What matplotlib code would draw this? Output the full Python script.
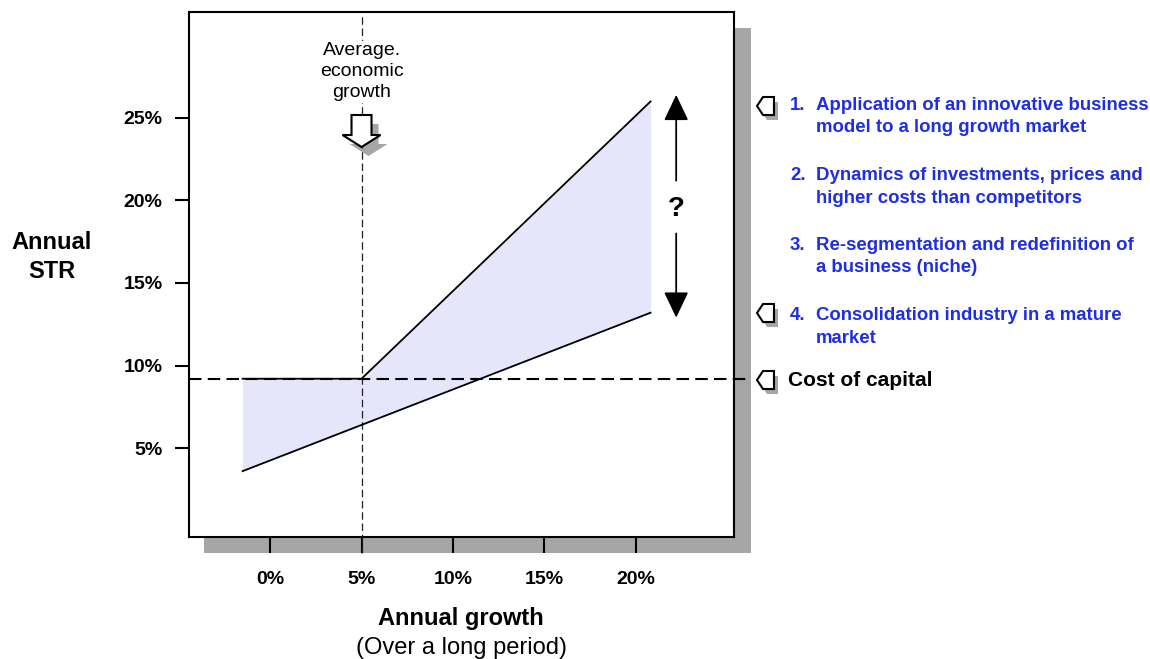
import matplotlib.pyplot as plt
from matplotlib.patches import Polygon, Rectangle
from matplotlib.transforms import ScaledTranslation

plt.rcParams['font.family'] = ['Liberation Sans', 'DejaVu Sans']

W, H = 1150, 659

# axis ticks (percent)
growth_ticks = [0, 5, 10, 15, 20]
str_ticks = [5, 10, 15, 20, 25]

# reference levels
avg_growth = 5.0
cost_of_capital = 9.2

# band of achievable returns vs growth
band_growth = [-1.5, 5.0, 20.8]
band_low = [3.6, 6.4, 13.2]
band_high = [9.2, 9.2, 26.0]

# "?" range arrow
range_x = 22.2
range_top = 26.4
range_bottom = 12.9
range_gap = [21.2, 18.0]
range_mid = 19.5

strategies = [
    ("1.", "Application of an innovative business", "model to a long growth market"),
    ("2.", "Dynamics of investments, prices and", "higher costs than competitors"),
    ("3.", "Re-segmentation and redefinition of", "a business (niche)"),
    ("4.", "Consolidation industry in a mature", "market"),
]
strategy_rows = [105, 176, 245, 316]
pointer_rows = [106, 313, 380]

BLUE = '#1e2ee0'
GREY = '#a6a6a6'


def fx(px):
    return px / W


def fy(py):
    return 1 - py / H


fig = plt.figure(figsize=(W / 100, H / 100), dpi=100)
ax = fig.add_axes([fx(189), fy(537), fx(734) - fx(189), fy(12) - fy(537)])

# drop shadow behind the plot frame
fig.add_artist(Rectangle((fx(204), fy(553)), fx(751) - fx(204), fy(28) - fy(553),
                         transform=fig.transFigure, fc=GREY, ec='none', zorder=-1))

ax.fill_between(band_growth, band_low, band_high, color='#e6e6fa', lw=0, zorder=1)
ax.plot(band_growth, band_low, color='black', lw=1.3, zorder=3)
ax.plot(band_growth, band_high, color='black', lw=1.3, zorder=3)

ax.axhline(cost_of_capital, xmin=0, xmax=1.029, color='black', lw=1.5,
           dashes=(6, 3), clip_on=False, zorder=4)
ax.axvline(avg_growth, ymin=-0.031, ymax=0.994, color='#222222', lw=0.9,
           dashes=(6, 3), clip_on=False, zorder=2)

ax.text(avg_growth, 27.8, 'Average.\neconomic\ngrowth', ha='center', va='center',
        fontsize=14, linespacing=1.3, zorder=6,
        bbox=dict(fc='white', ec='none', pad=1))

# block arrow pointing down at average growth (shape in pixels around its tip)
arrow_px = [(0, 0), (19, 12), (10, 12), (10, 32), (-10, 32), (-10, 12), (-19, 12)]
tip = fig.dpi_scale_trans + ScaledTranslation(avg_growth, 23.24, ax.transData)
ax.add_patch(Polygon([((x + 7) / 100, (y - 9) / 100) for x, y in arrow_px],
                     closed=True, fc=GREY, ec='none', transform=tip, zorder=1.5))
ax.add_patch(Polygon([(x / 100, y / 100) for x, y in arrow_px],
                     closed=True, fc='white', ec='black', lw=1.5, transform=tip, zorder=5))

# double-headed "?" arrow
head = '-|>,head_length=0.8,head_width=0.38'
ax.annotate('', xy=(range_x, range_top), xytext=(range_x, range_gap[0]),
            arrowprops=dict(arrowstyle=head, mutation_scale=20, lw=1.3, color='black',
                            shrinkA=0, shrinkB=0))
ax.annotate('', xy=(range_x, range_bottom), xytext=(range_x, range_gap[1]),
            arrowprops=dict(arrowstyle=head, mutation_scale=20, lw=1.3, color='black',
                            shrinkA=0, shrinkB=0))
ax.text(range_x, range_mid, '?', fontsize=20, fontweight='bold', ha='center', va='center')

ax.set_xticks(growth_ticks, [f'{v}%' for v in growth_ticks])
ax.set_yticks(str_ticks, [f'{v}%' for v in str_ticks])
ax.tick_params(axis='x', direction='out', length=11.5, width=1.5, pad=13, labelsize=14)
ax.tick_params(axis='y', direction='out', length=10, width=1.5, pad=9, labelsize=14)
for lab in ax.get_xticklabels() + ax.get_yticklabels():
    lab.set_fontweight('bold')
for sp in ax.spines.values():
    sp.set_linewidth(1.5)
ax.set_xlim(-4.43, 25.36)
ax.set_ylim(-0.39, 31.42)

fig.text(fx(461), fy(618), 'Annual growth', ha='center', va='center',
         fontsize=17, fontweight='bold')
fig.text(fx(461), fy(648), '(Over a long period)', ha='center', va='center', fontsize=17)
fig.text(fx(52), fy(257), 'Annual\nSTR', ha='center', va='center', fontsize=17,
         fontweight='bold', linespacing=1.35)

# strategy list on the right
for (num, first, second), row in zip(strategies, strategy_rows):
    fig.text(fx(790), fy(row), num, color=BLUE, fontsize=13.4, fontweight='bold', va='center')
    fig.text(fx(816), fy(row), first, color=BLUE, fontsize=13.4, fontweight='bold', va='center')
    fig.text(fx(816), fy(row + 22.5), second, color=BLUE, fontsize=13.4, fontweight='bold',
             va='center')
fig.text(fx(788), fy(380), 'Cost of capital', fontsize=15, fontweight='bold', va='center')

# small left-pointing markers
pointer_px = [(0, 0), (6, 9), (17, 9), (17, -9), (6, -9)]
for row in pointer_rows:
    anchor = fig.dpi_scale_trans + ScaledTranslation(fx(757), fy(row), fig.transFigure)
    fig.add_artist(Polygon([((x + 4) / 100, (y - 5) / 100) for x, y in pointer_px],
                           closed=True, fc=GREY, ec='none', transform=anchor))
    fig.add_artist(Polygon([(x / 100, y / 100) for x, y in pointer_px],
                           closed=True, fc='white', ec='black', lw=1.5, transform=anchor))

fig.savefig('out.png', dpi=100)
